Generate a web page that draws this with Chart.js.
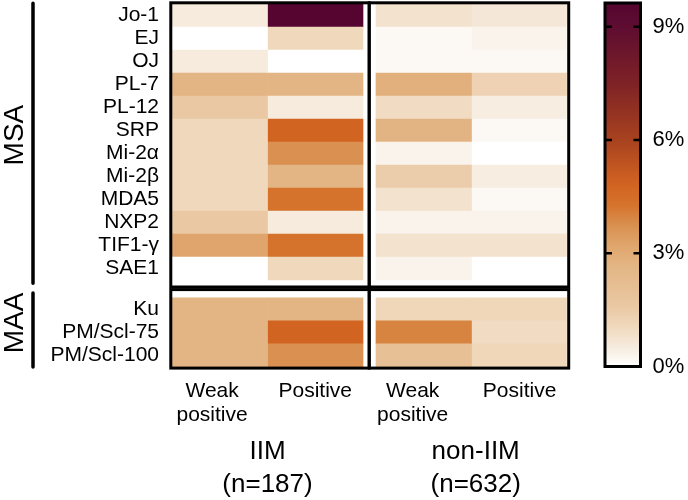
<!DOCTYPE html>
<html>
<head>
<meta charset="utf-8">
<script src="https://cdn.jsdelivr.net/npm/chart.js@4.4.1/dist/chart.umd.min.js"></script>
<style>
  html, body { margin: 0; padding: 0; background: #fff; }
  #wrap { position: relative; width: 688px; height: 500px; }
  #heat { position: absolute; left: 0; top: 0; }
  #bar { position: absolute; left: 590px; top: 0; }
</style>
</head>
<body>
<div id="wrap">
  <canvas id="heat" width="590" height="500"></canvas>
  <canvas id="bar" width="98" height="500"></canvas>
</div>
<script>
var msaRows = ['Jo-1', 'EJ', 'OJ', 'PL-7', 'PL-12', 'SRP', 'Mi-2α', 'Mi-2β', 'MDA5', 'NXP2', 'TIF1-γ', 'SAE1'];
var maaRows = ['Ku', 'PM/Scl-75', 'PM/Scl-100'];
var colLabels = [['Weak', 'positive'], 'Positive', ['Weak', 'positive'], 'Positive'];
var groupLabels = [['IIM', '(n=187)'], ['non-IIM', '(n=632)']];

// % of patients per antibody (MSA rows first, then MAA rows)
var iimWeak = [0.53, 0, 0.53, 2.67, 1.60, 1.07, 1.07, 1.07, 1.07, 1.60, 3.21, 0, 2.67, 2.67, 2.67];
var iimPos = [9.63, 1.07, 0, 2.67, 0.53, 4.81, 3.74, 2.67, 4.28, 0.53, 4.28, 1.07, 2.67, 4.81, 3.74];
var nonWeak = [0.79, 0.16, 0.16, 2.85, 0.95, 2.69, 0.32, 1.42, 0.79, 0.32, 0.79, 0.32, 1.11, 3.96, 2.06];
var nonPos = [0.63, 0.32, 0.16, 1.27, 0.47, 0.16, 0, 0.47, 0.16, 0.32, 0.79, 0, 1.11, 0.95, 1.11];

var scaleTicks = [0, 3, 6, 9];
var scaleMax = 9.63;

// colour map (value -> colour)
var cmap = [[0, '#ffffff'], [0.5, '#f6ecdf'], [1.07, '#f0d8bc'], [1.6, '#eac8a3'], [2.67, '#e3b584'],
  [3.21, '#e0a56c'], [3.74, '#d99050'], [4.28, '#d5732c'], [4.81, '#d26422'], [6, '#a8421f'],
  [7.5, '#7e2226'], [9, '#5e0d31'], [9.63, '#55052f']];

function hex2rgb(h) {
  return [parseInt(h.substr(1, 2), 16), parseInt(h.substr(3, 2), 16), parseInt(h.substr(5, 2), 16)];
}
function colorAt(v) {
  for (var i = 1; i < cmap.length; i++) {
    if (v <= cmap[i][0] || i == cmap.length - 1) {
      var a = hex2rgb(cmap[i - 1][1]), b = hex2rgb(cmap[i][1]);
      var t = Math.max(0, Math.min(1, (v - cmap[i - 1][0]) / (cmap[i][0] - cmap[i - 1][0])));
      return 'rgb(' + a.map(function(c, k) { return Math.round(c + (b[k] - c) * t); }).join(',') + ')';
    }
  }
}
// keep tick labels from pushing the chart area around
function noPad(a) { a.paddingTop = 0; a.paddingBottom = 0; a.paddingLeft = 0; a.paddingRight = 0; }

Chart.defaults.font.family = "'Liberation Sans', Arial, sans-serif";
Chart.defaults.color = '#000';

var allRows = msaRows.concat(maaRows);
var rowPos = allRows.map(function(r, i) { return i < msaRows.length ? i : i + 0.78; });
var colSpans = [[0, 1], [1, 2], [2.136, 3.136], [3.136, 4.131]];
var colTickPos = [0.42, 1.5, 2.52, 3.64];
var groupTickPos = [1.0, 3.18];

var datasets = [iimWeak, iimPos, nonWeak, nonPos].map(function(vals, c) {
  return {
    data: vals.map(function(v, i) { return { x: colSpans[c].slice(), y: rowPos[i] }; }),
    backgroundColor: vals.map(colorAt),
    borderWidth: 0,
    grouped: false,
    barPercentage: 1,
    categoryPercentage: 1
  };
});

var framePlugin = {
  id: 'frames',
  afterDraw: function(chart) {
    var ctx = chart.ctx;
    var xs = function(v) { return chart.scales.x.getPixelForValue(v); };
    var ys = function(v) { return chart.scales.y.getPixelForValue(v); };
    var boxes = [[-0.0126, 2.065, -0.552, 11.804], [2.065, 4.154, -0.552, 11.804],
                 [-0.0126, 2.065, 11.917, 15.33], [2.065, 4.154, 11.917, 15.33]];
    ctx.save();
    ctx.strokeStyle = '#000';
    ctx.lineWidth = 3;
    boxes.forEach(function(b) {
      ctx.strokeRect(xs(b[0]), ys(b[2]), xs(b[1]) - xs(b[0]), ys(b[3]) - ys(b[2]));
    });
    // group brackets
    ctx.lineWidth = 3.5;
    ctx.lineCap = 'round';
    ctx.beginPath();
    ctx.moveTo(33, ys(-0.53)); ctx.lineTo(33, ys(11.64));
    ctx.moveTo(33, ys(12.07)); ctx.lineTo(33, ys(15.28));
    ctx.stroke();
    ctx.fillStyle = '#000';
    ctx.font = "28px 'Liberation Sans', Arial, sans-serif";
    ctx.textAlign = 'center';
    ctx.textBaseline = 'middle';
    [['MSA', 5.2], ['MAA', 13.37]].forEach(function(g) {
      ctx.save();
      ctx.translate(15, ys(g[1]));
      ctx.rotate(-Math.PI / 2);
      ctx.fillText(g[0], 0, 0);
      ctx.restore();
    });
    ctx.restore();
  }
};

new Chart(document.getElementById('heat'), {
  type: 'bar',
  data: { datasets: datasets },
  options: {
    indexAxis: 'y',
    responsive: false,
    animation: false,
    events: [],
    layout: { autoPadding: false, padding: { top: 2, right: 19, bottom: 0, left: 0 } },
    plugins: { legend: { display: false }, tooltip: { enabled: false } },
    scales: {
      x: {
        type: 'linear', position: 'bottom', weight: 1,
        min: -0.0209, max: 4.178,
        afterBuildTicks: function(a) { a.ticks = colTickPos.map(function(v) { return { value: v }; }); },
        afterFit: function(a) { a.height = 60; noPad(a); },
        grid: { display: false, drawTicks: false },
        border: { display: false },
        ticks: {
          autoSkip: false, maxRotation: 0, minRotation: 0, padding: 11,
          font: { size: 21, lineHeight: 1.15 },
          callback: function(v, i) { return colLabels[i]; }
        }
      },
      x2: {
        type: 'linear', axis: 'x', position: 'bottom', weight: 2,
        min: -0.0209, max: 4.178,
        afterBuildTicks: function(a) { a.ticks = groupTickPos.map(function(v) { return { value: v }; }); },
        afterFit: function(a) { a.height = 72; noPad(a); },
        grid: { display: false, drawTicks: false },
        border: { display: false },
        ticks: {
          autoSkip: false, maxRotation: 0, minRotation: 0, padding: 7,
          font: { size: 26, lineHeight: 1.27 },
          callback: function(v, i) { return groupLabels[i]; }
        }
      },
      y: {
        type: 'linear', reverse: true, offset: false,
        min: -0.587, max: 15.326,
        afterBuildTicks: function(a) { a.ticks = rowPos.map(function(v) { return { value: v }; }); },
        afterFit: function(a) { a.width = 170; noPad(a); },
        grid: { display: false, drawTicks: false },
        border: { display: false },
        ticks: {
          autoSkip: false, padding: 11,
          font: { size: 21, lineHeight: 1 },
          callback: function(v, i) { return allRows[i]; }
        }
      }
    }
  },
  plugins: [framePlugin]
});

// colour bar
var cbPlugin = {
  id: 'cbframe',
  afterDraw: function(chart) {
    var ctx = chart.ctx, ca = chart.chartArea, y = chart.scales.y;
    ctx.save();
    ctx.strokeStyle = '#000';
    ctx.lineWidth = 3;
    ctx.strokeRect(ca.left, ca.top, ca.right - ca.left, ca.bottom - ca.top);
    ctx.lineWidth = 2.5;
    ctx.beginPath();
    scaleTicks.forEach(function(t) {
      if (t == 0) return;
      var p = y.getPixelForValue(t);
      ctx.moveTo(ca.left, p); ctx.lineTo(ca.left + 7, p);
      ctx.moveTo(ca.right - 7, p); ctx.lineTo(ca.right, p);
    });
    ctx.stroke();
    ctx.restore();
  }
};

new Chart(document.getElementById('bar'), {
  type: 'bar',
  data: {
    labels: [''],
    datasets: [{
      data: [[0, scaleMax]],
      borderWidth: 0,
      barPercentage: 1,
      categoryPercentage: 1,
      backgroundColor: function(c) {
        var ch = c.chart;
        if (!ch.chartArea) return '#fff';
        var y = ch.scales.y;
        var g = ch.ctx.createLinearGradient(0, y.getPixelForValue(0), 0, y.getPixelForValue(scaleMax));
        cmap.forEach(function(s) { g.addColorStop(s[0] / scaleMax, s[1]); });
        return g;
      }
    }]
  },
  options: {
    responsive: false,
    animation: false,
    events: [],
    layout: { autoPadding: false, padding: { left: 15, top: 3, bottom: 133.5, right: 0 } },
    plugins: { legend: { display: false }, tooltip: { enabled: false } },
    scales: {
      x: { display: false },
      y: {
        position: 'right', min: 0, max: scaleMax,
        afterBuildTicks: function(a) { a.ticks = scaleTicks.map(function(v) { return { value: v }; }); },
        afterFit: function(a) { a.width = 47.5; noPad(a); },
        grid: { display: false, drawTicks: false },
        border: { display: false },
        ticks: { padding: 12, font: { size: 22 }, callback: function(v) { return v + '%'; } }
      }
    }
  },
  plugins: [cbPlugin]
});
</script>
</body>
</html>
